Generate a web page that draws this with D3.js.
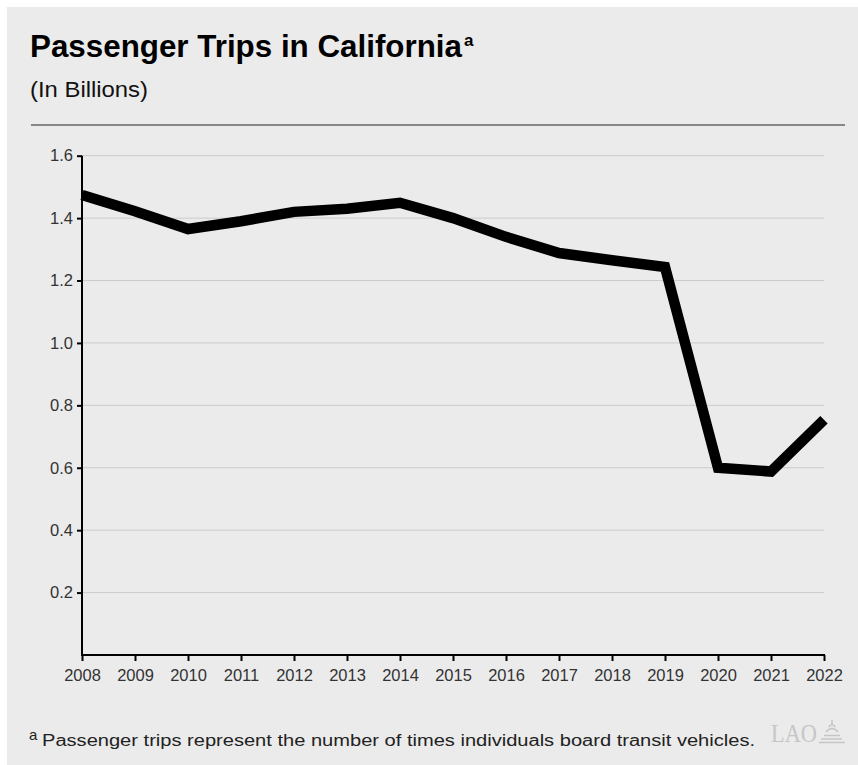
<!DOCTYPE html>
<html>
<head>
<meta charset="utf-8">
<script src="https://cdn.jsdelivr.net/npm/d3@7"></script>
<style>
  body { margin: 0; background: #fff; }
  svg { display: block; font-family: "Liberation Sans", Arial, Helvetica, sans-serif; }
</style>
</head>
<body>
<svg id="chart" width="858" height="765"></svg>
<script>
// passenger trips, billions
var years = [2008, 2009, 2010, 2011, 2012, 2013, 2014, 2015, 2016, 2017, 2018, 2019, 2020, 2021, 2022];
var trips = [1.474, 1.422, 1.365, 1.390, 1.420, 1.430, 1.449, 1.400, 1.340, 1.288, 1.265, 1.243, 0.600, 0.588, 0.754];
var yTicks = [0.2, 0.4, 0.6, 0.8, 1.0, 1.2, 1.4, 1.6];

var svg = d3.select("#chart");

svg.append("rect")
    .attr("x", 7).attr("y", 7)
    .attr("width", 851).attr("height", 758)
    .attr("fill", "#ebebeb");

svg.append("text")
    .attr("x", 30).attr("y", 57)
    .attr("font-size", 31.5).attr("font-weight", "bold")
    .attr("fill", "#000")
    .attr("textLength", 432).attr("lengthAdjust", "spacingAndGlyphs")
    .text("Passenger Trips in California");
svg.append("text")
    .attr("x", 464).attr("y", 46)
    .attr("font-size", 17).attr("font-weight", "bold")
    .attr("fill", "#000")
    .text("a");

svg.append("text")
    .attr("x", 30).attr("y", 97)
    .attr("font-size", 22.5)
    .attr("fill", "#111")
    .attr("textLength", 118).attr("lengthAdjust", "spacingAndGlyphs")
    .text("(In Billions)");

svg.append("line")
    .attr("x1", 31).attr("x2", 845)
    .attr("y1", 125).attr("y2", 125)
    .attr("stroke", "#666").attr("stroke-width", 1.5);

var margin = { left: 82, right: 824, top: 155.7, bottom: 655 };

var x = d3.scaleLinear()
    .domain([2008, 2022])
    .range([margin.left, margin.right]);

var y = d3.scaleLinear()
    .domain([0, 1.6])
    .range([margin.bottom, margin.top]);

// grid
svg.append("g")
    .selectAll("line")
    .data(yTicks)
    .join("line")
    .attr("x1", margin.left).attr("x2", margin.right)
    .attr("y1", function (d) { return y(d); })
    .attr("y2", function (d) { return y(d); })
    .attr("stroke", "#cbcbcb").attr("stroke-width", 1);

// y axis
var yAxis = svg.append("g")
    .attr("transform", "translate(" + margin.left + ",0)")
    .call(d3.axisLeft(y).tickValues(yTicks).tickSize(5).tickSizeOuter(0).tickFormat(d3.format(".1f")));
yAxis.select(".domain").remove();
yAxis.append("line")
    .attr("x1", 0).attr("x2", 0)
    .attr("y1", y(1.6)).attr("y2", margin.bottom)
    .attr("stroke", "#000").attr("stroke-width", 2);
yAxis.selectAll(".tick line").attr("stroke", "#000").attr("stroke-width", 2);
yAxis.selectAll(".tick text")
    .attr("font-family", "Liberation Sans, Arial, sans-serif")
    .attr("font-size", 16.5).attr("fill", "#333").attr("x", -9);

// x axis
var xAxis = svg.append("g")
    .attr("transform", "translate(0," + margin.bottom + ")")
    .call(d3.axisBottom(x).tickValues(years).tickSize(6).tickSizeOuter(0).tickFormat(d3.format("d")));
xAxis.select(".domain").remove();
xAxis.append("line")
    .attr("x1", margin.left - 1).attr("x2", margin.right + 1)
    .attr("y1", 0).attr("y2", 0)
    .attr("stroke", "#000").attr("stroke-width", 2);
xAxis.selectAll(".tick line").attr("stroke", "#000").attr("stroke-width", 2);
xAxis.selectAll(".tick text")
    .attr("font-family", "Liberation Sans, Arial, sans-serif")
    .attr("font-size", 16.5).attr("fill", "#333").attr("y", 14);

// line
var line = d3.line()
    .x(function (d, i) { return x(years[i]); })
    .y(function (d) { return y(d); });

svg.append("path")
    .datum(trips)
    .attr("d", line)
    .attr("fill", "none")
    .attr("stroke", "#000")
    .attr("stroke-width", 10.5)
    .attr("stroke-linejoin", "miter");

// footnote
svg.append("text")
    .attr("x", 29).attr("y", 740)
    .attr("font-size", 15).attr("fill", "#222")
    .text("a");
svg.append("text")
    .attr("x", 42).attr("y", 746)
    .attr("font-size", 16).attr("fill", "#222")
    .attr("textLength", 713).attr("lengthAdjust", "spacingAndGlyphs")
    .text("Passenger trips represent the number of times individuals board transit vehicles.");

// LAO logo
svg.append("text")
    .attr("x", 771).attr("y", 742)
    .attr("fill", "#c6c6c6")
    .attr("font-family", "Liberation Serif, Times New Roman, serif")
    .attr("font-size", 25)
    .attr("textLength", 46).attr("lengthAdjust", "spacingAndGlyphs")
    .text("LAO");
var dome = svg.append("g").attr("stroke", "#c6c6c6").attr("fill", "none").attr("stroke-width", 1.6);
dome.append("path").attr("d", "M832,720 L832,725 M829,727 Q832,722 835,727 M826,732 Q832,725 838,732 M824,735.5 L840,735.5 M821,739 L842,739 M819,742.5 L845,742.5");
</script>
</body>
</html>
